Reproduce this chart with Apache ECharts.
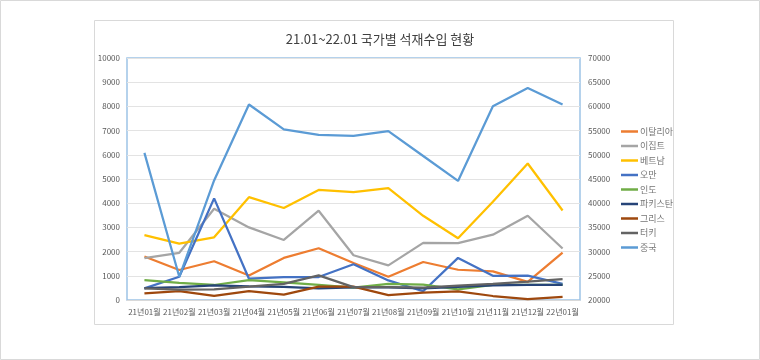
<!DOCTYPE html>
<html><head><meta charset="utf-8">
<script src="https://cdn.jsdelivr.net/npm/echarts@6/dist/echarts.min.js"></script>
<style>html,body{margin:0;padding:0;background:#fff}#c{width:760px;height:360px}</style>
</head><body><div id="c"></div>
<script>
const categories = ['21년01월','21년02월','21년03월','21년04월','21년05월','21년06월','21년07월','21년08월','21년09월','21년10월','21년11월','21년12월','22년01월'];
const italy    = [1800,1240,1600,1010,1740,2140,1530,960,1570,1250,1180,750,1960];
const egypt    = [1730,1950,3770,3000,2480,3690,1850,1430,2360,2350,2700,3480,2130];
const vietnam  = [2680,2330,2590,4250,3800,4550,4460,4620,3480,2550,4060,5640,3700];
const oman     = [480,960,4200,880,950,950,1480,810,360,1740,1000,1010,670];
const india    = [820,710,620,820,730,620,510,670,640,440,620,620,620];
const pakistan = [490,530,600,560,540,480,520,520,480,540,600,620,620];
const greece   = [270,370,170,370,220,550,550,205,300,360,165,40,125];
const turkey   = [480,425,440,550,670,1015,530,535,510,590,670,755,865];
const china    = [50400,24800,44700,60400,55250,54100,53900,54900,49750,44600,60050,63800,60400];
const leftTicks = {min:0, max:10000, interval:1000};
const rightTicks = {min:20000, max:70000, interval:5000};

const names = ['이탈리아','이집트','베트남','오만','인도','파키스탄','그리스','터키','중국'];
const colors = ['#ED7D31','#A5A5A5','#FFC000','#4472C4','#70AD47','#264478','#9E480E','#636363','#5B9BD5'];
const datas = [italy,egypt,vietnam,oman,india,pakistan,greece,turkey,china];

const chart = echarts.init(document.getElementById('c'), null, {renderer:'canvas'});
const lbl = {color:'#595959', fontSize:8, fontFamily:'"Noto Sans CJK KR", sans-serif'};
chart.setOption({
  animation:false,
  color: colors,
  title:{text:'21.01~22.01 국가별 석재수입 현황', left:'center', top:28,
    textStyle:{fontSize:13, fontWeight:'normal', color:'#404040', fontFamily:'"Noto Sans CJK KR", sans-serif'}},
  graphic:[
    {type:'rect', shape:{x:0.5,y:0.5,width:759,height:359}, style:{fill:'none', stroke:'#d9d9d9', lineWidth:1}, silent:true},
    {type:'rect', shape:{x:94.5,y:20.5,width:579,height:304}, style:{fill:'none', stroke:'#d9d9d9', lineWidth:1}, silent:true}
  ],
  grid:{left:127, top:58, right:180, bottom:60, show:true, borderColor:'#9DC3E6', borderWidth:1.5, containLabel:false},
  legend:{orient:'vertical', left:616, top:122, icon:'rect', itemWidth:17, itemHeight:2.5, itemGap:5.5,
    textStyle:{color:'#767676', fontSize:9, fontFamily:'"Noto Sans CJK KR", sans-serif', padding:[0,0,0,-3]}, data:names},
  xAxis:{type:'category', data:categories, boundaryGap:true,
    axisLine:{show:true, lineStyle:{color:'#d9d9d9'}}, axisTick:{show:false},
    axisLabel:Object.assign({interval:0, margin:8}, lbl)},
  yAxis:[
    {type:'value', min:leftTicks.min, max:leftTicks.max, interval:leftTicks.interval, position:'left',
      axisLine:{show:false}, axisTick:{show:false}, axisLabel:Object.assign({margin:7, formatter:v=>String(v)}, lbl),
      splitLine:{lineStyle:{color:'#e3e3e3'}}},
    {type:'value', min:rightTicks.min, max:rightTicks.max, interval:rightTicks.interval, position:'right',
      axisLine:{show:false}, axisTick:{show:false}, axisLabel:Object.assign({margin:8, formatter:v=>String(v)}, lbl),
      splitLine:{show:false}}
  ],
  series: names.map((n,i)=>({name:n, type:'line', data:datas[i], yAxisIndex: i===8?1:0,
    symbol:'none', lineStyle:{width:2.25, color:colors[i]}, itemStyle:{color:colors[i]}, z: i===8?3:2}))
});
</script></body></html>
